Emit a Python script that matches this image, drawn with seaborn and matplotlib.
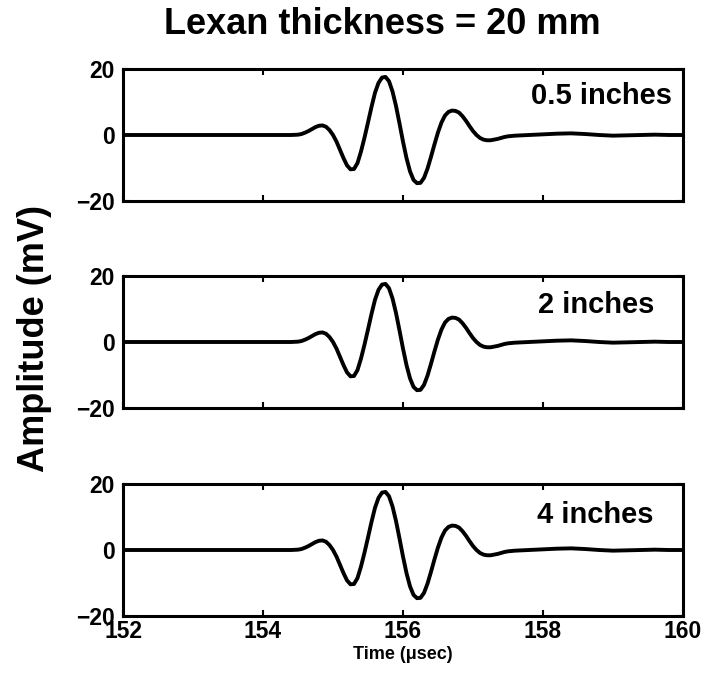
import numpy as np
import pandas as pd
import matplotlib.pyplot as plt
import seaborn as sns

# waveform (time in usec, amplitude in mV)
time_us = [152.0, 153.0, 154.0, 154.4, 154.45, 154.5, 154.55, 154.6, 154.65, 154.7, 154.75,
           154.8, 154.85, 154.9, 154.95, 155.0, 155.05, 155.1, 155.15, 155.2, 155.25,
           155.3, 155.35, 155.4, 155.45, 155.5, 155.55, 155.6, 155.65, 155.7, 155.75,
           155.8, 155.85, 155.9, 155.95, 156.0, 156.05, 156.1, 156.15, 156.2, 156.25,
           156.3, 156.35, 156.4, 156.45, 156.5, 156.55, 156.6, 156.65, 156.7, 156.75,
           156.8, 156.85, 156.9, 156.95, 157.0, 157.05, 157.1, 157.15, 157.2, 157.25,
           157.3, 157.35, 157.4, 157.45, 157.5, 157.6, 157.8, 158.0, 158.2, 158.4,
           158.6, 158.8, 159.0, 159.2, 159.4, 159.6, 159.8, 160.0]
amp_mv = [0.0, 0.0, 0.0, 0.0, 0.05, 0.1, 0.3, 0.7, 1.2, 1.8, 2.4,
          2.8, 2.9, 2.5, 1.5, 0.0, -2.0, -4.5, -7.0, -9.2, -10.4,
          -10.3, -8.5, -5.0, -0.8, 3.8, 8.5, 12.8, 15.8, 17.4, 17.6,
          16.3, 13.2, 8.8, 3.5, -2.0, -7.0, -11.0, -13.6, -14.6, -14.5,
          -13.0, -10.2, -6.6, -2.8, 0.8, 3.8, 5.9, 7.0, 7.4, 7.3,
          6.8, 5.7, 4.3, 2.7, 1.2, 0.0, -0.9, -1.4, -1.6, -1.6,
          -1.4, -1.2, -0.9, -0.6, -0.4, -0.2, 0.0, 0.2, 0.4, 0.5,
          0.3, 0.0, -0.2, -0.1, 0.0, 0.1, 0.0, 0.0]

panel_labels = ["0.5 inches", "2 inches", "4 inches"]
label_pos = [(0.98, 0.795), (0.948, 0.78), (0.948, 0.765)]
x_ticks = [152, 154, 156, 158, 160]
y_ticks = [-20, 0, 20]

sns.set_theme(style="ticks", rc={"text.color": "black", "axes.labelcolor": "black",
                                 "xtick.color": "black", "ytick.color": "black",
                                 "axes.edgecolor": "black"})
plt.rcParams["font.family"] = ["Liberation Sans", "DejaVu Sans"]
plt.rcParams["font.weight"] = "bold"

fig = plt.figure(figsize=(7.04, 6.73), dpi=100)
W, H = 704, 673
tops = [69, 276, 484]
axes = []
for top in tops:
    ax = fig.add_axes([123 / W, 1 - (top + 132) / H, 560 / W, 132 / H])
    axes.append(ax)

df = pd.DataFrame({"time": time_us, "amp": amp_mv})
for ax, lab, pos in zip(axes, panel_labels, label_pos):
    sns.lineplot(data=df, x="time", y="amp", ax=ax, color="black", linewidth=2.8)
    ax.set_xlim(152, 160)
    ax.set_ylim(-20, 20)
    ax.set_xticks(x_ticks)
    ax.set_yticks(y_ticks)
    ax.tick_params(direction="in", length=4, width=1.5, top=True, right=True,
                   labelsize=16.5)
    ax.tick_params(axis="x", pad=3)
    ax.tick_params(axis="y", pad=6)
    for s in ax.spines.values():
        s.set_linewidth(2.2)
    ax.set_xlabel("")
    ax.set_ylabel("")
    ax.text(pos[0], pos[1], lab, transform=ax.transAxes, ha="right", va="center",
            fontsize=21, fontweight="bold")
    if ax is not axes[-1]:
        ax.set_xticklabels([])
    ax.set_yticklabels(["\u221220", "0", "20"])
    for t in ax.get_xticklabels() + ax.get_yticklabels():
        t.set_fontweight("bold")

axes[-1].set_xlabel("Time (\u03bcsec)", fontsize=13, fontweight="bold", labelpad=2)
fig.text(382 / W, 1 - 25 / H, "Lexan thickness = 20 mm", ha="center", va="center",
         fontsize=26, fontweight="bold")
fig.text(35 / W, 1 - 338 / H, "Amplitude (mV)", ha="center", va="center",
         rotation=90, fontsize=26, fontweight="bold")

fig.savefig("out.png", dpi=100)
